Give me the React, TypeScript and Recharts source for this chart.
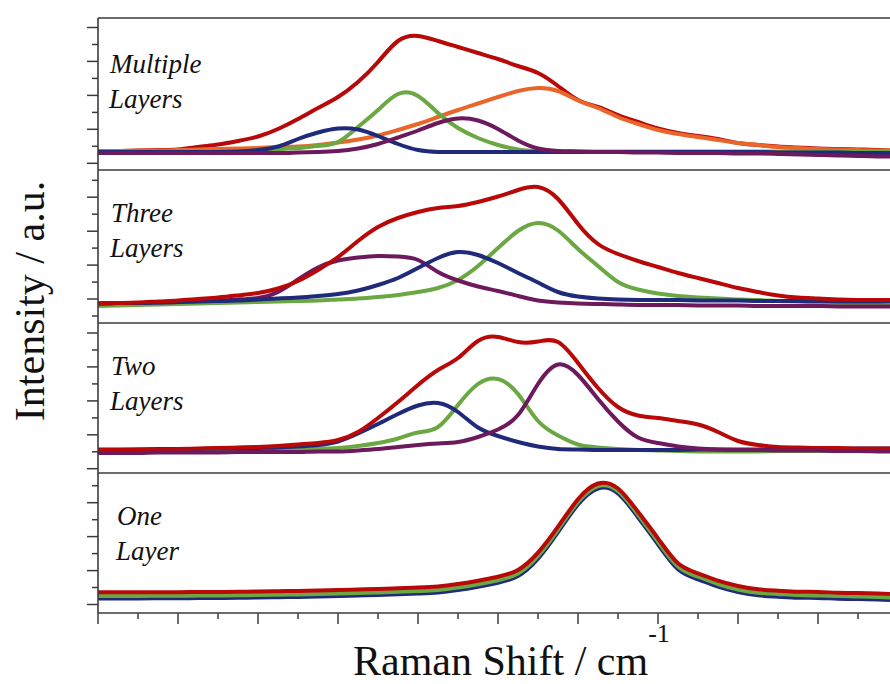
import React from "react";
import { LineChart, Line, XAxis, YAxis } from "recharts";

// Raman shift (cm-1) sample points shared by every panel
const SHIFT = [
  2550, 2555, 2560, 2565, 2570, 2575, 2580, 2585, 2590, 2595,
  2600, 2605, 2610, 2615, 2620, 2625, 2630, 2635, 2640, 2645,
  2650, 2655, 2660, 2665, 2670, 2675, 2680, 2685, 2690, 2695,
  2700, 2705, 2710, 2715, 2720, 2725, 2730, 2735, 2740, 2745, 2748,
];

const X_TICKS = [
  2550, 2560, 2570, 2580, 2590, 2600, 2610, 2620, 2630, 2640,
  2650, 2660, 2670, 2680, 2690, 2700, 2710, 2720, 2730, 2740,
];

// Multiple layers
const multiRed = [19, 19, 19.5, 20, 20.5, 23, 25.5, 29, 33.5, 41, 51, 62, 73, 88, 108, 129, 134, 129, 123, 117, 111, 104, 97, 84, 70, 63, 55, 48, 41.5, 37, 34, 31, 27, 25, 23.5, 22.5, 21.5, 21, 20.5, 20, 19.5];
const multiOrange = [19, 19, 19.5, 19.5, 20, 20.5, 21, 21.5, 22, 23, 23.5, 25, 27.5, 30.5, 34.5, 40, 46, 53, 60, 66.5, 73, 79, 82, 79, 69.5, 62, 53, 46, 40, 36, 33, 30, 27, 25, 23, 22, 21, 20.5, 20, 19.5, 19.5];
const multiGreen = [18, 18, 18, 18, 18, 18.5, 18.5, 18.5, 19.5, 21, 22, 24, 28, 43, 60, 76, 74, 57, 42, 32, 25, 20.5, 19, 18.5, 18.5, 18.5, 18.5, 18.5, 18.5, 18.5, 18.5, 18.5, 18.5, 18.5, 18.5, 18.5, 18.5, 18, 18, 18, 18];
const multiBlue = [18, 18, 18, 18, 18, 18, 18, 18.5, 20, 23.5, 31, 37.5, 41.5, 40.5, 34, 26, 20, 18, 18, 18, 18, 18, 18, 18, 18, 18, 18, 18, 18, 18, 18, 18, 18, 18, 17.5, 17.5, 17.5, 17.5, 17, 17, 17];
const multiPurple = [17, 17, 17, 17, 17, 17, 17, 17, 17, 17, 17.5, 18, 19, 21.5, 26, 32.5, 39.5, 47, 51.5, 49.5, 41, 29.5, 21.5, 19, 18.5, 18, 18, 17.5, 17.5, 17, 17, 17, 16.5, 16.5, 16, 15.5, 15, 14.5, 14, 13.5, 13.5];

// Three layers
const threeRed = [19.5, 20, 20.5, 21.5, 22.5, 24, 25.5, 27.5, 30, 34.5, 42, 53, 66, 82, 96, 105, 111, 115, 117, 121, 126.5, 133, 136, 124, 99, 79, 69, 62, 56, 50, 45, 40, 35, 31, 27.5, 25.5, 24.5, 23.5, 23, 23, 23];
const threePurple = [19.5, 20, 20, 20.5, 21, 22, 22.5, 23.5, 25, 31, 43.5, 55.5, 62.5, 65.5, 67, 66.5, 63, 51, 42.5, 36.5, 32, 27, 22.5, 20.5, 19.5, 19, 18.5, 18, 18, 18, 17.5, 17.5, 17.5, 17, 17, 17, 17, 16.5, 16.5, 16.5, 16.5];
const threeBlue = [19.5, 20, 20, 20.5, 21, 21.5, 22, 22.5, 23.5, 24.5, 25.5, 27, 29, 32.5, 38, 45, 55, 65, 71, 68, 60, 50, 40.5, 31, 26.5, 24.5, 23.5, 23, 23, 23, 22.5, 22.5, 22.5, 22, 22, 22, 22, 21.5, 21.5, 21.5, 21.5];
const threeGreen = [17, 17.5, 18, 18.5, 19, 19.5, 20, 20.5, 21, 21.5, 22, 22.5, 23.5, 24.5, 26, 28, 31, 35, 43, 57, 75, 92, 100, 92.5, 74, 57, 41, 33.5, 29.5, 27, 25.5, 24.5, 23.5, 23, 22, 21.5, 20.5, 20, 19, 18, 17.5];

// Two layers
const twoRed = [23, 23, 23.5, 23.5, 24, 24.5, 25, 25.5, 26, 27, 28.5, 30, 33, 41, 55, 71, 88, 103, 115, 132, 136, 131, 131.5, 131, 110, 85, 66, 57.5, 55, 52, 48.5, 41, 32, 28, 26, 25.5, 25, 25, 24.5, 24.5, 24.5];
const twoBlue = [23.5, 23.5, 23.5, 24, 24, 24, 24.5, 24.5, 25, 25.5, 26.5, 28, 31.5, 39.5, 49, 59, 67.5, 70, 61, 45.5, 37, 31, 26.5, 24, 23.5, 23, 23, 23, 23, 23, 23.5, 23.5, 23.5, 23.5, 24, 24, 24, 24, 24.5, 24.5, 24.5];
const twoGreen = [21, 21, 21.5, 21.5, 21.5, 22, 22, 22.5, 23, 23, 23.5, 24, 25, 27, 30, 34.5, 40.5, 46, 68, 89, 94, 79, 52, 37.5, 28.5, 25.5, 24, 23, 22.5, 22, 21.5, 21.5, 21.5, 21.5, 22, 22, 22, 22, 22.5, 22.5, 22.5];
const twoPurple = [20, 20, 20, 20.5, 20.5, 20.5, 20.5, 21, 21, 21, 21, 21.5, 21.5, 22.5, 24, 26, 28, 29.5, 31, 36, 43.5, 58, 89, 108.5, 98, 74, 51.5, 35.5, 30, 26.5, 24.5, 23.5, 23, 23, 22.5, 22.5, 22.5, 22, 22, 21.5, 21.5];

// One layer
const oneRed = [20.7, 20.7, 20.7, 20.8, 20.8, 21, 21, 21.2, 21.5, 21.8, 22, 22.5, 23, 23.5, 24, 24.8, 25.5, 26.5, 29, 32.3, 36.3, 43, 60.3, 86.3, 113.7, 129.5, 124.5, 101.3, 74.7, 49.7, 39.7, 32.3, 27, 23.7, 22.3, 21.3, 21, 20.3, 20, 19.5, 19];
const oneGreen = [17, 17, 17, 17.2, 17.2, 17.5, 17.5, 17.7, 18, 18.3, 18.5, 19, 19.5, 20, 20.5, 21.2, 22, 23, 25.5, 28.8, 32.8, 39.5, 57, 83.5, 111, 127, 122, 98.5, 71.5, 46.5, 36.3, 29, 23.5, 20.3, 19, 18, 17.5, 17, 16.5, 16, 15.5];
const oneBlue = [14.5, 14.5, 14.5, 14.7, 14.7, 15, 15, 15.2, 15.5, 15.8, 16, 16.5, 17, 17.5, 18, 18.7, 19.5, 20.5, 23, 26.3, 30.3, 37, 54.3, 80.8, 108.5, 124.5, 119.5, 95.8, 68.7, 43.7, 33.7, 26.3, 21, 17.7, 16.3, 15.3, 15, 14.3, 14, 13.5, 13];

// left axis tick positions per panel
const multiTicks = [6.7, 23.7, 40.7, 57.6, 74.6, 91.6, 108.6, 125.5, 142.5];
const threeTicks = [7.0, 24.0, 40.9, 57.9, 74.9, 91.8, 108.8, 125.8, 142.7];
const twoTicks = [4.3, 21.2, 38.2, 55.1, 72.1, 89.1, 106.1, 123.0, 140.0];
const oneTicks = [8.5, 25.5, 42.4, 59.4, 76.4, 93.3, 110.3, 127.3];

const RED = "#B80808";
const GREEN = "#6BA843";
const BLUE = "#1F2B7A";
const PURPLE = "#6D1A5D";
const ORANGE = "#EA6529";
const AXIS = "#3c3c3c";
const SERIF = "'Liberation Serif', 'Times New Roman', serif";

type S = { key: string; values: number[]; color: string };

function buildRows(series: S[]) {
  return SHIFT.map((shift, i) => {
    const row: Record<string, number> = { shift };
    series.forEach((s) => (row[s.key] = s.values[i]));
    return row;
  });
}

const leftTick = (longFirst: boolean) => (props: any) => {
  const long = (props.index % 2 === 0) === longFirst;
  const len = long ? 11 : 6;
  return <line x1={props.x - len} x2={props.x} y1={props.y} y2={props.y} stroke={AXIS} strokeWidth={1.5} />;
};

const bottomTick = (props: any) => {
  const major = (props.payload.value - 2550) % 20 === 0;
  return <line x1={props.x} x2={props.x} y1={props.y} y2={props.y + (major ? 11 : 6)} stroke={AXIS} strokeWidth={1.5} />;
};

function Panel(p: {
  top: number;
  height: number;
  series: S[];
  yTicks: number[];
  longFirst: boolean;
  topTicks?: boolean;
  bottomAxis?: boolean;
}) {
  const padTop = 20;
  const padBottom = 30;
  const rows = buildRows(p.series);
  return (
    <div style={{ position: "absolute", left: 0, top: p.top - padTop }}>
      <LineChart
        width={890}
        height={p.height + padTop + padBottom}
        data={rows}
        margin={{ top: padTop - 1, right: 0, bottom: padBottom - (p.bottomAxis ? 1 : 0), left: 0 }}
      >
        <XAxis
          xAxisId="t"
          orientation="top"
          type="number"
          dataKey="shift"
          domain={[2550, 2748]}
          ticks={X_TICKS}
          interval={0}
          height={1}
          tick={false}
          tickSize={4}
          tickLine={p.topTicks ? { stroke: AXIS, strokeWidth: 1.5 } : false}
          axisLine={{ stroke: AXIS, strokeWidth: 1.6 }}
        />
        <XAxis
          xAxisId="b"
          type="number"
          dataKey="shift"
          domain={[2550, 2748]}
          ticks={X_TICKS}
          interval={0}
          height={1}
          hide={!p.bottomAxis}
          tickLine={false}
          tickSize={0}
          tickMargin={0}
          tick={bottomTick}
          axisLine={{ stroke: AXIS, strokeWidth: 1.6 }}
        />
        <YAxis
          type="number"
          domain={[0, p.height]}
          ticks={p.yTicks}
          interval={0}
          width={98}
          tickLine={false}
          tickSize={0}
          tickMargin={0}
          tick={leftTick(p.longFirst)}
          axisLine={{ stroke: AXIS, strokeWidth: 1.6 }}
        />
        {p.series.map((s) => (
          <Line
            key={s.key}
            xAxisId="b"
            dataKey={s.key}
            type="natural"
            stroke={s.color}
            strokeWidth={4}
            dot={false}
            activeDot={false}
            isAnimationActive={false}
          />
        ))}
      </LineChart>
    </div>
  );
}

function Label({ x, y, lines }: { x: number; y: number; lines: string[] }) {
  return (
    <>
      {lines.map((t, i) => (
        <text key={t} x={x - (i ? 1 : 0)} y={y + i * 35} fontFamily={SERIF} fontStyle="italic" fontSize={27} fill="#111">
          {t}
        </text>
      ))}
    </>
  );
}

export default function App() {
  return (
    <div style={{ position: "absolute", left: 0, top: 0, width: 890, height: 684, background: "#fff", overflow: "hidden" }}>
      <Panel
        top={18}
        height={152}
        yTicks={multiTicks}
        longFirst
        topTicks
        series={[
          { key: "red", values: multiRed, color: RED },
          { key: "orange", values: multiOrange, color: ORANGE },
          { key: "green", values: multiGreen, color: GREEN },
          { key: "blue", values: multiBlue, color: BLUE },
          { key: "purple", values: multiPurple, color: PURPLE },
        ]}
      />
      <Panel
        top={170}
        height={153}
        yTicks={threeTicks}
        longFirst={false}
        series={[
          { key: "green", values: threeGreen, color: GREEN },
          { key: "purple", values: threePurple, color: PURPLE },
          { key: "blue", values: threeBlue, color: BLUE },
          { key: "red", values: threeRed, color: RED },
        ]}
      />
      <Panel
        top={323}
        height={150}
        yTicks={twoTicks}
        longFirst
        series={[
          { key: "green", values: twoGreen, color: GREEN },
          { key: "blue", values: twoBlue, color: BLUE },
          { key: "red", values: twoRed, color: RED },
          { key: "purple", values: twoPurple, color: PURPLE },
        ]}
      />
      <Panel
        top={473}
        height={140}
        yTicks={oneTicks}
        longFirst
        bottomAxis
        series={[
          { key: "blue", values: oneBlue, color: BLUE },
          { key: "green", values: oneGreen, color: GREEN },
          { key: "red", values: oneRed, color: RED },
        ]}
      />
      <svg width={890} height={684} style={{ position: "absolute", left: 0, top: 0, pointerEvents: "none" }}>
        <Label x={110} y={73} lines={["Multiple", "Layers"]} />
        <Label x={111} y={222} lines={["Three", "Layers"]} />
        <Label x={111} y={375} lines={["Two", "Layers"]} />
        <Label x={117} y={525} lines={["One", "Layer"]} />
        <text transform="translate(44, 301) rotate(-90)" textAnchor="middle" fontFamily={SERIF} fontSize={42} fill="#111">
          Intensity / a.u.
        </text>
        <text x={353} y={675} fontFamily={SERIF} fontSize={42} fill="#111">
          Raman Shift / cm
          <tspan dy={-33} fontSize={26}>-1</tspan>
        </text>
      </svg>
    </div>
  );
}
